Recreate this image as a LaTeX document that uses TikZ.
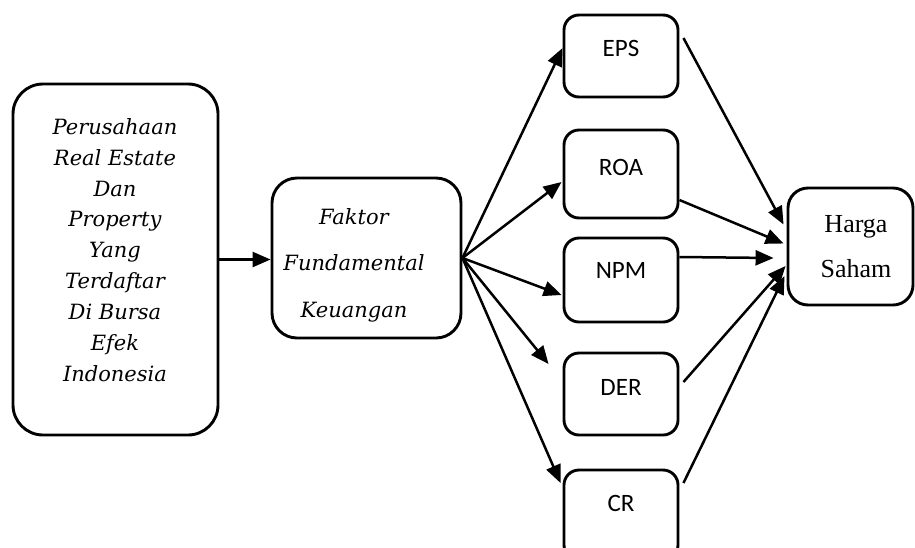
\documentclass[tikz,border=0pt]{standalone}
\usepackage{fontspec}
\setmainfont{Liberation Serif}
\newfontfamily\dvserif{DejaVu Serif}
\newfontfamily\carlito{Carlito}
\usetikzlibrary{arrows.meta,calc}
\begin{document}
\begin{tikzpicture}[x=1pt,y=-1pt,
  box/.style={draw=black, line width=2.9pt, fill=white, inner sep=0pt},
  arr/.style={line width=2.5pt, -{Triangle[length=18pt,width=15pt]}},
  itxt/.style={font=\dvserif\itshape, align=center, inner sep=0pt},
  stxt/.style={font=\carlito\fontsize{25}{30}\selectfont, inner sep=0pt},
  rtxt/.style={align=center, inner sep=0pt}]
\useasboundingbox (0,0) rectangle (915,547);
\clip (0,0) rectangle (915,547);
% boxes
\node[box, minimum width=205pt, minimum height=351pt, rounded corners=30pt] (L) at (115.5,259.5) {};
\node[box, minimum width=189pt, minimum height=160pt, rounded corners=25pt] (F) at (366.5,258) {};
\node[box, minimum width=114pt, minimum height=82pt, rounded corners=15pt] (EPS) at (621,56) {};
\node[box, minimum width=114pt, minimum height=88pt, rounded corners=15pt] (ROA) at (621,174) {};
\node[box, minimum width=114pt, minimum height=84pt, rounded corners=15pt] (NPM) at (621,280) {};
\node[box, minimum width=114pt, minimum height=82pt, rounded corners=15pt] (DER) at (621,394) {};
\node[box, minimum width=114pt, minimum height=90pt, rounded corners=15pt] (CR) at (621,515) {};
\node[box, minimum width=125pt, minimum height=117pt, rounded corners=20pt] (H) at (850.5,246.5) {};
% texts
\node[itxt, font=\dvserif\itshape\fontsize{21}{30.9}\selectfont] (Lt) at (115,250)
  {Perusahaan\\Real Estate\\Dan\\Property\\Yang\\Terdaftar\\Di Bursa\\Efek\\Indonesia};
\node[itxt, font=\dvserif\itshape\fontsize{21}{46.5}\selectfont] (Ft) at (354,265)
  {Faktor\\Fundamental\\Keuangan};
\node[stxt] (EPSt) at (621,48) {EPS};
\node[stxt] (ROAt) at (621,167) {ROA};
\node[stxt] (NPMt) at (621,270) {NPM};
\node[stxt] (DERt) at (621,387) {DER};
\node[stxt] (CRt) at (621,503) {CR};
\node[rtxt, font=\fontsize{26}{45}\selectfont] (Ht) at (856,247) {Harga\\Saham};
% arrows
\draw[arr] (L.east) -- (L.east -| F.west);
\draw[arr] (F.east) -- ([yshift=8pt]EPS.west);
\draw[arr] (F.east) -- ([xshift=-1pt,yshift=-8pt]ROA.west);
\draw[arr] (F.east) -- ([xshift=-1pt,yshift=-15pt]NPM.west);
\draw[arr] (F.east) -- ([xshift=-14pt,yshift=30pt]DER.west);
\draw[arr] (F.east) -- ([xshift=-2pt,yshift=32pt]CR.west);
\draw[arr] ([xshift=4pt,yshift=18pt]EPS.east) -- ([xshift=-3pt,yshift=22pt]H.west);
\draw[arr] ([yshift=-26pt]ROA.east) -- ([xshift=-3pt,yshift=3pt]H.west);
\draw[arr] ([yshift=23pt]NPM.east) -- ([xshift=-13pt,yshift=-11.5pt]H.west);
\draw[arr] ([xshift=4pt,yshift=12pt]DER.east) -- ([xshift=-1pt,yshift=-19.5pt]H.west);
\draw[arr] ([xshift=4pt,yshift=32pt]CR.east) -- ([xshift=-2pt,yshift=-29.5pt]H.west);
\end{tikzpicture}
\end{document}
